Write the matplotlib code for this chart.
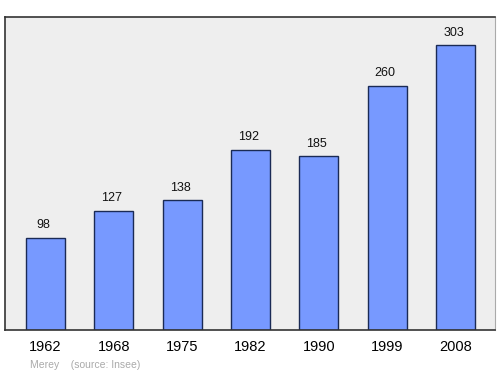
import matplotlib
matplotlib.use("Agg")
from matplotlib import pyplot as plt

years = ["1962", "1968", "1975", "1982", "1990", "1999", "2008"]
population = [98, 127, 138, 192, 185, 260, 303]

plt.rcParams['font.family'] = ['Liberation Sans', 'DejaVu Sans']

fig = plt.figure(figsize=(5, 3.74), dpi=100)
ax = fig.add_axes([5 / 500, 1 - 330 / 374, 490 / 500, 313 / 374])
ax.set_facecolor("#eeeeee")

x = range(len(years))
ax.bar(x, population, width=0.57, color="#7799ff", edgecolor="#1a2a55", linewidth=1)
for i, v in zip(x, population):
    ax.text(i - 0.03, v + 7, str(v), ha="center", va="bottom", fontsize=9, color="#111111")

ax.set_xlim(-0.593, 6.578)
ax.set_ylim(0, 333)
ax.set_xticks(list(x))
ax.set_xticklabels(years, fontsize=10.5)
ax.tick_params(axis="x", length=0, pad=7.5)
ax.set_yticks([])
for side in ["left", "top", "bottom"]:
    ax.spines[side].set_color("#333333")
    ax.spines[side].set_linewidth(1.2)
ax.spines["right"].set_color("#aaaaaa")

fig.text(30 / 500, 1 - 365 / 374, "Merey    (source: Insee)", fontsize=7.5, color="#aaaaaa", va="center")

fig.savefig("out.png", dpi=100)
